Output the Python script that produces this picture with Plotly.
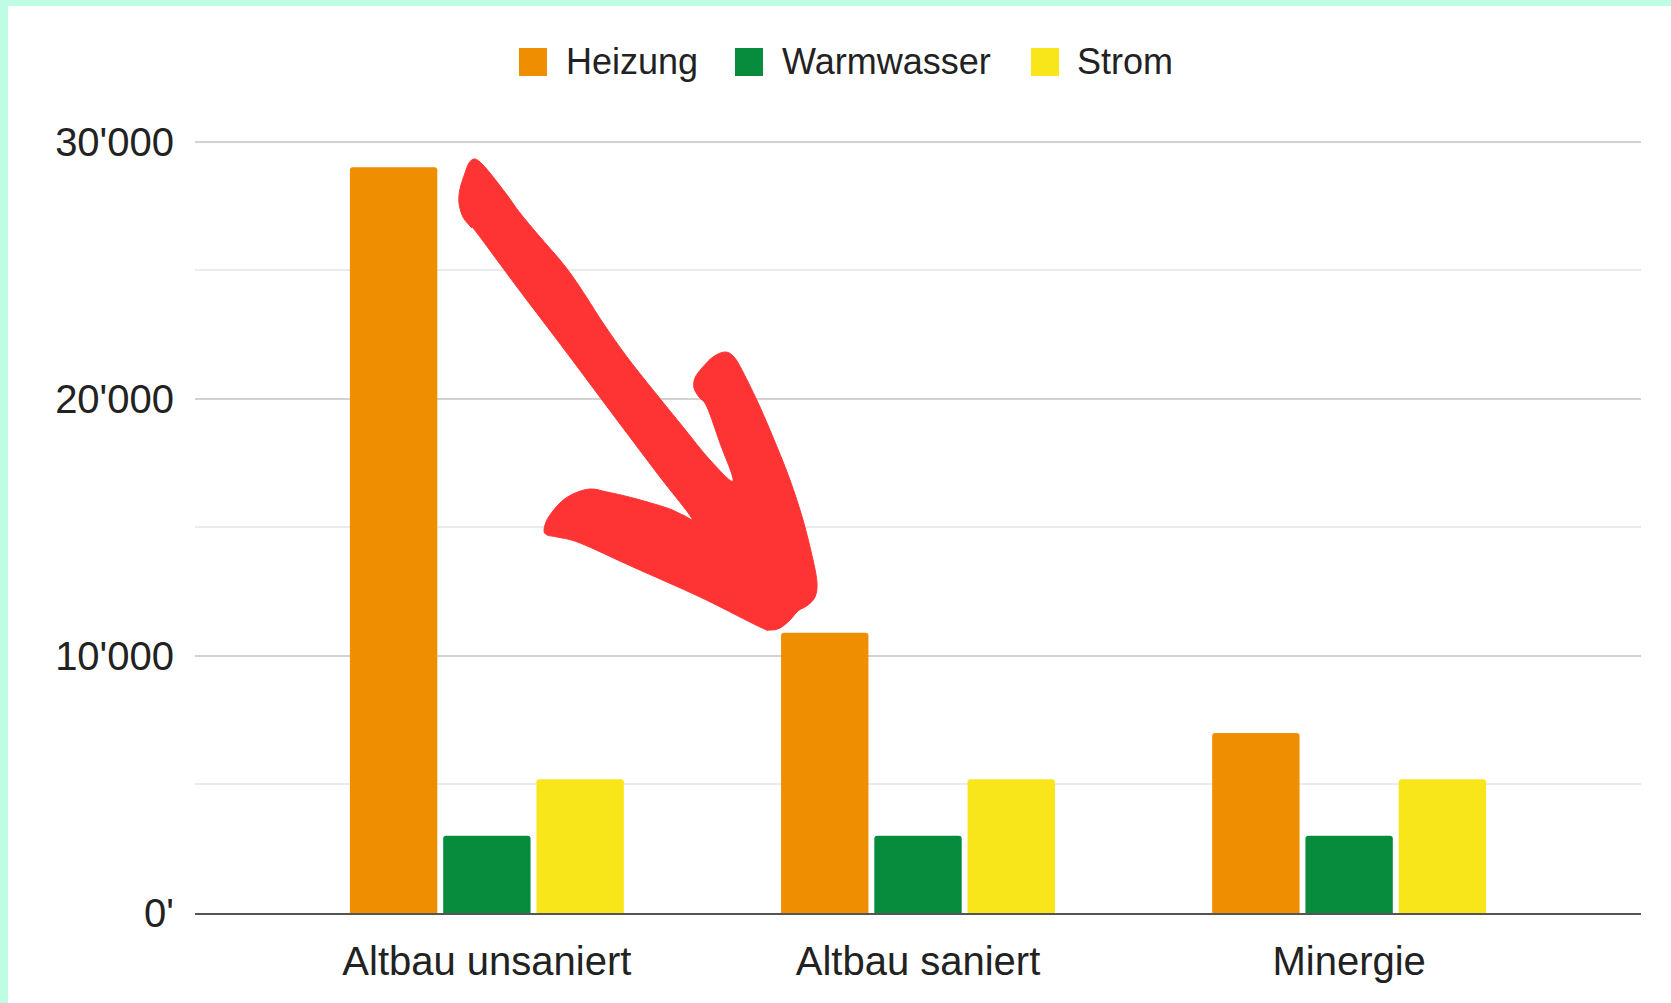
import plotly.graph_objects as go

# ---- data ----
categories = ["Altbau unsaniert", "Altbau saniert", "Minergie"]
heizung = [29000, 10900, 7000]
warmwasser = [3000, 3000, 3000]
strom = [5200, 5200, 5200]
series_names = ["Heizung", "Warmwasser", "Strom"]
y_tickvals = [0, 10000, 20000, 30000]
y_ticktext = ["0'", "10'000", "20'000", "30'000"]

colors = ["#EF8F00", "#078C3E", "#F8E51A"]

W, H = 1671, 1003
L, R, T, B = 195, 30, 139, 90
PW, PH = W - L - R, H - T - B

def px_x(x):
    return (x - L) / PW

def px_y(y):
    return (H - B - y) / PH

FONT = "Liberation Sans, Arial, sans-serif"

fig = go.Figure()
for name, vals, col in zip(series_names, [heizung, warmwasser, strom], colors):
    fig.add_trace(go.Bar(name=name, x=categories, y=vals, marker_color=col,
                         marker_line_width=0, showlegend=False))

shapes = []
annotations = []

# mint border strips
shapes.append(dict(type="rect", xref="paper", yref="paper", x0=px_x(0), x1=px_x(W),
                   y0=px_y(0), y1=px_y(6), fillcolor="#BEFCE4", line_width=0, layer="below"))
shapes.append(dict(type="rect", xref="paper", yref="paper", x0=px_x(0), x1=px_x(8),
                   y0=px_y(0), y1=px_y(H), fillcolor="#BEFCE4", line_width=0, layer="below"))

# manual legend
legend_sq_x = [519, 735, 1031]
legend_tx_x = [564, 780, 1075]
leg_y = 62
sq = 28
for name, col, sx, tx in zip(series_names, colors, legend_sq_x, legend_tx_x):
    shapes.append(dict(type="rect", xref="paper", yref="paper",
                       x0=px_x(sx), x1=px_x(sx + sq), y0=px_y(leg_y + sq / 2), y1=px_y(leg_y - sq / 2),
                       fillcolor=col, line_width=0))
    annotations.append(dict(text=name, xref="paper", yref="paper", x=px_x(tx), y=px_y(leg_y),
                            xanchor="left", yanchor="middle", showarrow=False,
                            font=dict(family=FONT, size=36, color="#222222")))

# red hand-drawn arrow (outline, pixel positions on the page)
arrow_px = [
    (474, 159), (480, 162), (490, 173), (507, 195), (520, 213), (540, 237), (560, 260),
    (573, 277), (587, 298), (603, 323), (627, 357), (653, 390), (683, 427), (710, 460),
    (733, 481),
    (720, 443), (707, 407), (699, 397), (694, 388), (695, 378), (702, 368), (713, 357),
    (725, 352), (734, 357), (743, 372), (760, 407), (777, 447), (790, 480), (803, 520),
    (813, 560), (817, 583), (815, 597), (808, 605), (798, 611), (790, 620), (780, 628),
    (770, 630), (760, 627),
    (700, 597), (633, 567), (580, 543), (557, 537), (547, 535), (544, 530), (548, 518),
    (560, 503), (573, 494), (590, 489), (607, 492), (633, 498), (667, 508), (683, 515),
    (691, 517),
    (660, 477), (617, 420), (567, 353), (517, 287), (477, 233), (471, 227), (463, 217),
    (459, 203), (460, 189), (465, 173), (469, 163),
]

def smooth_path(pts):
    n = len(pts)
    P = [(px_x(x), px_y(y)) for x, y in pts]
    d = f"M {P[0][0]:.5f},{P[0][1]:.5f}"
    for i in range(n):
        p0 = P[(i - 1) % n]; p1 = P[i]; p2 = P[(i + 1) % n]; p3 = P[(i + 2) % n]
        c1 = (p1[0] + (p2[0] - p0[0]) / 6, p1[1] + (p2[1] - p0[1]) / 6)
        c2 = (p2[0] - (p3[0] - p1[0]) / 6, p2[1] - (p3[1] - p1[1]) / 6)
        d += f" C {c1[0]:.5f},{c1[1]:.5f} {c2[0]:.5f},{c2[1]:.5f} {p2[0]:.5f},{p2[1]:.5f}"
    return d + " Z"

shapes.append(dict(type="path", xref="paper", yref="paper", path=smooth_path(arrow_px),
                   fillcolor="#FE3434", line=dict(color="#FE3434", width=1), layer="above"))

fig.update_layout(
    width=W, height=H,
    margin=dict(l=L, r=R, t=T, b=B, pad=0),
    paper_bgcolor="white", plot_bgcolor="white",
    barmode="group", bargap=0.351, bargroupgap=0.063,
    barcornerradius=3,
    showlegend=False,
    font=dict(family=FONT, size=40, color="#222222"),
    shapes=shapes, annotations=annotations,
)
fig.update_xaxes(type="category", range=[-0.677, 2.677], showgrid=False,
                 showline=True, linecolor="#555555", linewidth=2,
                 ticks="outside", ticklen=12, tickcolor="rgba(0,0,0,0)",
                 tickfont=dict(family=FONT, size=40, color="#222222"))
fig.update_yaxes(range=[0, 30100], tickvals=y_tickvals, ticktext=y_ticktext,
                 showgrid=True, gridcolor="#D2D2D2", gridwidth=2,
                 zeroline=False, showline=False,
                 ticks="outside", ticklen=12, tickcolor="rgba(0,0,0,0)",
                 tickfont=dict(family=FONT, size=40, color="#222222"),
                 minor=dict(dtick=5000, showgrid=True, gridcolor="#EBEBEB", gridwidth=2))

fig.write_html("out.html", config={"displayModeBar": False},
               post_script="document.body.style.margin='0';")
